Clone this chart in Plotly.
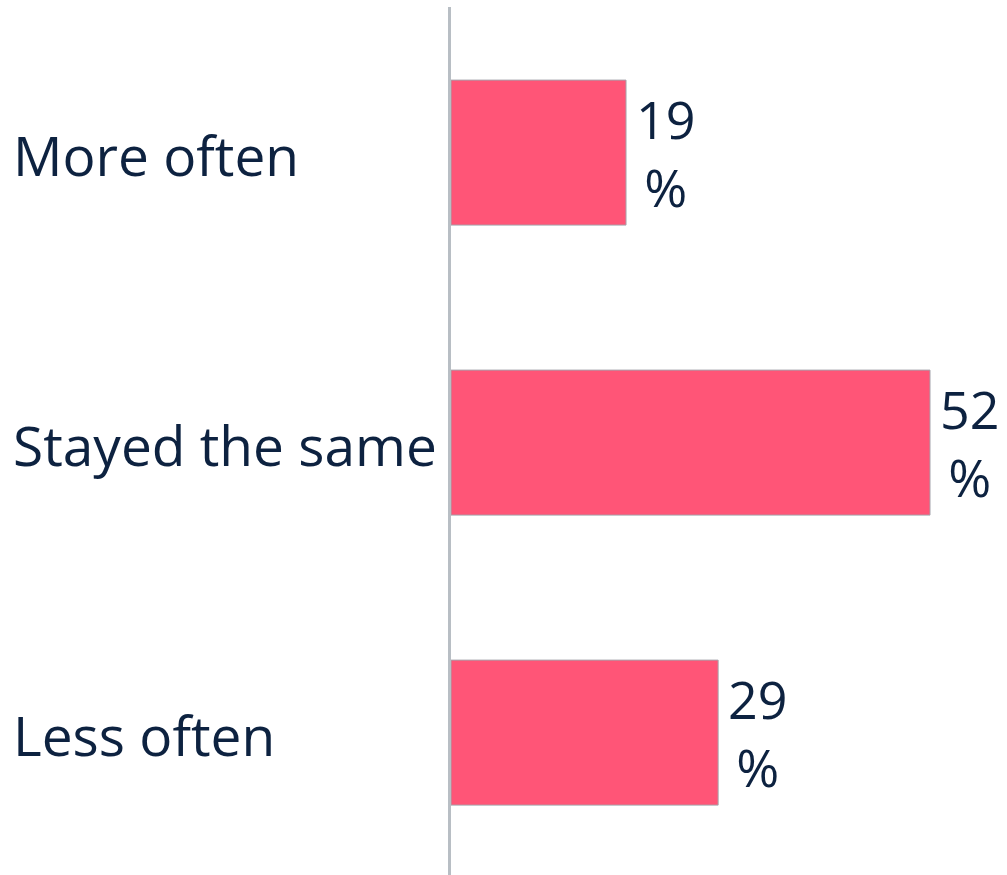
import plotly.graph_objects as go

categories = ["More often", "Stayed the same", "Less often"]
values = [19, 52, 29]
value_labels = [f"{v}<br>%" for v in values]

FONT = "Open Sans"
TEXT_COLOR = "#0d2240"
BAR_COLOR = "#ff5577"

fig = go.Figure()
fig.add_trace(go.Bar(
    x=values,
    y=categories,
    orientation="h",
    width=0.5,
    marker=dict(color=BAR_COLOR, line=dict(color="#a4a4ac", width=1)),
    cliponaxis=False,
    hoverinfo="skip",
))

for c in categories:
    fig.add_annotation(
        x=-451 / 556, xref="paper", y=c, yref="y",
        text=c, showarrow=False, xanchor="left", yanchor="middle",
        font=dict(family=FONT, size=55, color=TEXT_COLOR), xshift=11,
        yshift=-2,
    )

for v, c, lab in zip(values, categories, value_labels):
    fig.add_annotation(
        x=v, xref="x", y=c, yref="y",
        text=lab, showarrow=False, xanchor="left", yanchor="middle", align="center",
        font=dict(family=FONT, size=52, color=TEXT_COLOR), xshift=8,
    )

px_per_unit = 479 / 52
fig.update_layout(
    width=1007, height=875,
    margin=dict(l=451, r=0, t=7, b=0),
    paper_bgcolor="white", plot_bgcolor="white",
    showlegend=False,
    xaxis=dict(range=[0, 556 / px_per_unit], visible=False),
    yaxis=dict(
        categoryorder="array", categoryarray=categories,
        range=[2.491, -0.502],
        showticklabels=False, showgrid=False, zeroline=False,
        showline=True, linecolor="#b8bec4", linewidth=3,
        layer="below traces",
    ),
)

fig.write_html("out.html")
